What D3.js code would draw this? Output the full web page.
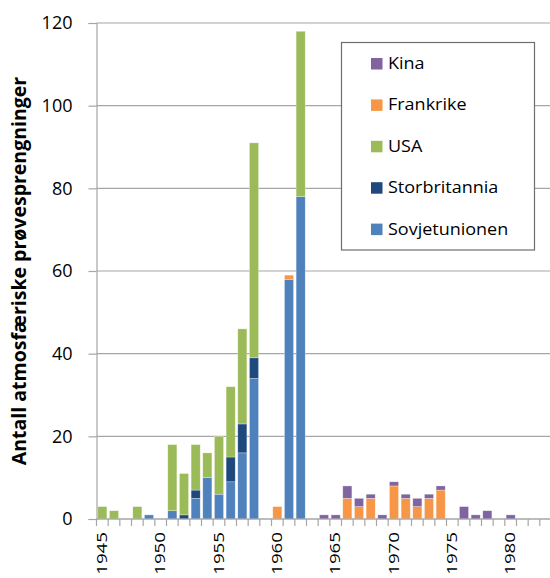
<!DOCTYPE html>
<html>
<head>
<meta charset="utf-8">
<script src="https://cdn.jsdelivr.net/npm/d3@7"></script>
<style>
  body { margin: 0; background: #fff; }
  svg { display: block; font-family: "Open Sans", "Noto Sans", sans-serif; }
</style>
</head>
<body>
<svg id="chart" width="550" height="578"></svg>
<script>
// Years 1945–1983
const years = d3.range(1945, 1984);

// Atmospheric nuclear tests per year and country
const sovjetunionen = [0,0,0,0,1,0,2,0,5,10,6,9,16,34,0,0,58,78,0,0,0,0,0,0,0,0,0,0,0,0,0,0,0,0,0,0,0,0,0];
const storbritannia = [0,0,0,0,0,0,0,1,2,0,0,6,7,5,0,0,0,0,0,0,0,0,0,0,0,0,0,0,0,0,0,0,0,0,0,0,0,0,0];
const usa           = [3,2,0,3,0,0,16,10,11,6,14,17,23,52,0,0,0,40,0,0,0,0,0,0,0,0,0,0,0,0,0,0,0,0,0,0,0,0,0];
const frankrike     = [0,0,0,0,0,0,0,0,0,0,0,0,0,0,0,3,1,0,0,0,0,5,3,5,0,8,5,3,5,7,0,0,0,0,0,0,0,0,0];
const kina          = [0,0,0,0,0,0,0,0,0,0,0,0,0,0,0,0,0,0,0,1,1,3,2,1,1,1,1,2,1,1,0,3,1,2,0,1,0,0,0];

const seriesNames = ["Sovjetunionen", "Storbritannia", "USA", "Frankrike", "Kina"];
const seriesValues = [sovjetunionen, storbritannia, usa, frankrike, kina];
const seriesColors = ["#4F81BD", "#1F497D", "#9BBB59", "#F79646", "#8064A2"];
const yTicks = [0, 20, 40, 60, 80, 100, 120];
const xTickLabels = [1945, 1950, 1955, 1960, 1965, 1970, 1975, 1980];

const table = years.map((y, i) => {
  const row = { year: y };
  seriesNames.forEach((n, k) => row[n] = seriesValues[k][i]);
  return row;
});

const svg = d3.select("#chart");
const margin = { left: 96.5, right: -1.5, top: 23, bottom: 59 };
const W = 550, H = 578;
const x = d3.scaleBand().domain(years).range([margin.left, W - margin.right]).paddingInner(0.22).paddingOuter(0.11);
const y = d3.scaleLinear().domain([0, 120]).range([H - margin.bottom, margin.top]);

// horizontal gridlines
svg.append("g").selectAll("line").data(yTicks).join("line")
  .attr("x1", margin.left).attr("x2", W)
  .attr("y1", d => y(d)).attr("y2", d => y(d))
  .attr("stroke", "#a6a6a6").attr("stroke-width", 1.2);

// stacked bars
const stack = d3.stack().keys(seriesNames)(table);
svg.append("g").selectAll("g").data(stack).join("g")
  .attr("fill", (d, i) => seriesColors[i])
  .selectAll("rect").data(d => d.filter(p => p[1] > p[0])).join("rect")
  .attr("x", d => x(d.data.year))
  .attr("width", x.bandwidth())
  .attr("y", d => y(d[1]))
  .attr("height", d => y(d[0]) - y(d[1]))
  .attr("stroke", "#ffffff").attr("stroke-opacity", 0.5).attr("stroke-width", 0.6);

// y axis
const yAxis = svg.append("g").attr("transform", `translate(${margin.left},0)`)
  .call(d3.axisLeft(y).tickValues(yTicks).tickSize(8).tickPadding(16));
yAxis.select(".domain").attr("stroke", "#a6a6a6").attr("stroke-width", 1.2);
yAxis.selectAll(".tick line").attr("stroke", "#a6a6a6").attr("stroke-width", 1.2);
yAxis.selectAll("text").attr("font-size", 18).attr("fill", "#000").attr("font-family", "'Open Sans', sans-serif");

// x axis: one tick per year, labels every fifth year
const step = x.step();
const xAxisG = svg.append("g");
xAxisG.append("line")
  .attr("x1", margin.left).attr("x2", W)
  .attr("y1", y(0)).attr("y2", y(0))
  .attr("stroke", "#a6a6a6").attr("stroke-width", 1.2);
const tickPos = years.map((yr) => x(yr) - x.paddingInner() * step / 2);
xAxisG.selectAll(".yt").data(tickPos).join("line")
  .attr("x1", d => d).attr("x2", d => d)
  .attr("y1", y(0)).attr("y2", y(0) + 7)
  .attr("stroke", "#a6a6a6").attr("stroke-width", 1.2);
xAxisG.selectAll("text").data(xTickLabels).join("text")
  .attr("transform", d => `translate(${x(d) + x.bandwidth() / 2 + 4.5},${y(0) + 13}) rotate(-90) scale(1.04,0.8)`)
  .attr("text-anchor", "end")
  .attr("font-size", 18)
  .text(d => d);

// y axis title
svg.append("text")
  .attr("transform", `translate(26,${(y(0) + y(120)) / 2}) rotate(-90)`)
  .attr("text-anchor", "middle")
  .attr("font-size", 19.5).attr("font-weight", "bold")
  .text("Antall atmosfæriske prøvesprengninger");

// legend
const legend = svg.append("g");
legend.append("rect")
  .attr("x", 341.5).attr("y", 42.5).attr("width", 193).attr("height", 207.5)
  .attr("fill", "#fff").attr("stroke", "#6e6e6e").attr("stroke-width", 1.2);
const legendOrder = [4, 3, 2, 1, 0];
legendOrder.forEach((k, j) => {
  const cy = 63.5 + j * 41.4;
  legend.append("rect").attr("x", 371).attr("y", cy - 5.5).attr("width", 11.5).attr("height", 11.5)
    .attr("fill", seriesColors[k]);
  legend.append("text")
    .attr("transform", `translate(388,${cy}) scale(1,0.86)`)
    .attr("dy", "0.36em")
    .attr("font-size", 18).text(seriesNames[k]);
});
</script>
</body>
</html>
